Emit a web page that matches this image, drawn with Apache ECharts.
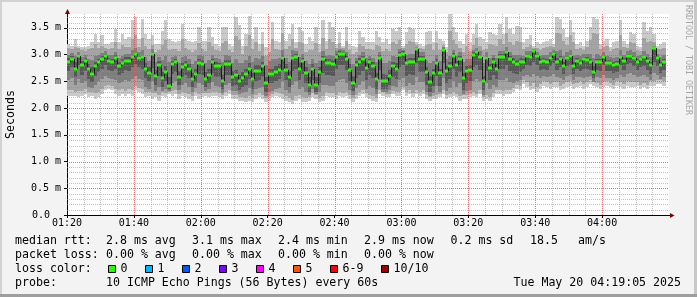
<!DOCTYPE html>
<html><head><meta charset="utf-8">
<script src="https://cdn.jsdelivr.net/npm/echarts@6/dist/echarts.min.js"></script>
<style>html,body{margin:0;padding:0;background:#f3f3f3;}#c{width:697px;height:297px;}</style>
</head><body><div id="c"></div>
<script>
// ---- data (minutes after 01:20, one value per minute, in ms) ----
const xTickLabels = ['01:20','01:40','02:00','02:20','02:40','03:00','03:20','03:40','04:00'];
const yTickLabels = ['0.0','0.5 m','1.0 m','1.5 m','2.0 m','2.5 m','3.0 m','3.5 m'];
const median = [2.86,2.92,2.74,2.98,2.80,2.88,2.73,2.64,2.78,2.86,
2.92,2.98,2.89,2.87,2.94,2.79,2.85,2.89,2.89,2.95,
3.01,2.93,2.96,2.74,2.66,3.01,2.60,2.80,2.56,2.67,
2.42,2.83,2.87,2.58,2.76,2.81,2.74,2.55,2.64,2.84,
2.83,2.55,2.62,2.86,2.78,2.78,2.51,2.83,2.83,2.58,
2.62,2.50,2.57,2.63,2.74,2.55,2.70,2.70,2.78,2.46,
2.64,2.63,2.68,2.72,2.93,2.72,2.59,2.93,2.96,2.73,
2.88,2.66,2.44,2.74,2.44,2.67,2.91,2.85,2.85,2.83,
2.96,3.01,3.01,2.92,2.72,2.47,2.80,2.87,2.92,2.75,
2.86,2.78,2.54,2.94,2.51,2.51,2.60,2.78,2.74,3.00,
3.02,2.84,2.87,2.87,3.10,2.92,2.92,2.67,2.48,2.65,
2.84,2.65,3.09,2.70,2.78,2.97,2.81,2.92,2.56,2.69,
2.71,2.99,3.04,2.95,2.50,2.93,2.75,2.87,2.74,2.96,
2.96,3.04,2.92,2.86,2.82,2.86,2.86,2.97,2.95,3.06,
2.97,2.86,2.88,2.86,2.94,3.02,2.86,2.92,2.78,2.94,
2.97,2.78,2.89,2.84,2.91,2.90,2.86,2.68,2.86,2.86,
2.95,2.84,2.84,2.80,2.82,2.95,2.88,2.98,2.98,2.93,
2.86,2.92,2.95,2.89,2.80,3.12,2.93,2.80,2.87];
const pingMax = [3.20,3.17,3.29,3.17,3.14,3.14,3.17,3.23,3.39,3.23,
3.36,3.20,3.20,3.23,3.48,3.23,3.39,3.29,3.33,3.64,
3.70,3.29,3.67,3.39,3.29,3.36,3.20,3.20,3.45,3.64,
3.29,3.26,3.23,3.26,3.57,3.29,3.26,3.23,3.26,3.51,
3.26,3.26,3.51,3.33,3.20,3.17,3.51,3.51,3.20,3.17,
3.70,3.55,3.17,3.39,3.73,3.29,3.51,3.20,3.42,3.14,
3.20,3.61,3.26,3.23,3.73,3.26,3.39,3.57,3.23,3.51,
3.45,3.20,3.33,3.26,3.51,3.20,3.64,3.26,3.61,3.51,
3.20,3.42,3.17,3.51,3.20,3.17,3.14,3.45,3.33,3.23,
3.23,3.23,3.45,3.33,3.23,3.29,3.20,3.48,3.45,3.51,
3.17,3.42,3.51,3.48,3.23,3.20,3.17,3.42,3.45,3.23,
3.45,3.29,3.26,3.14,3.76,3.51,3.42,3.26,3.20,3.39,
3.23,3.39,3.57,3.33,3.29,3.23,3.42,3.39,3.36,3.57,
3.39,3.70,3.48,3.39,3.54,3.51,3.23,3.29,3.36,3.17,
3.23,3.20,3.23,3.26,3.29,3.20,3.70,3.67,3.48,3.33,
3.64,3.42,3.20,3.23,3.17,3.26,3.51,3.70,3.67,3.20,
3.26,3.29,3.14,3.23,3.26,3.64,3.26,3.20,3.42,3.39,
3.17,3.14,3.61,3.45,3.51,3.39,3.17,3.20,3.23];
const pingMin = [2.23,2.23,2.22,2.20,2.23,2.26,2.20,2.23,2.17,2.20,
2.26,2.33,2.36,2.33,2.26,2.23,2.26,2.23,2.26,2.23,
2.33,2.30,2.26,2.20,2.23,2.17,2.20,2.14,2.23,2.20,
2.26,2.23,2.26,2.17,2.23,2.20,2.17,2.14,2.23,2.17,
2.20,2.23,2.20,2.23,2.23,2.20,2.17,2.23,2.26,2.17,
2.17,2.14,2.14,2.11,2.14,2.11,2.17,2.20,2.17,2.11,
2.14,2.20,2.23,2.20,2.17,2.14,2.11,2.08,2.14,2.17,
2.11,2.11,2.14,2.20,2.17,2.11,2.14,2.23,2.20,2.20,
2.17,2.23,2.20,2.23,2.17,2.11,2.17,2.23,2.26,2.20,
2.17,2.14,2.11,2.26,2.23,2.20,2.20,2.26,2.23,2.23,
2.33,2.23,2.26,2.20,2.26,2.23,2.26,2.17,2.14,2.17,
2.17,2.20,2.26,2.17,2.20,2.23,2.20,2.14,2.17,2.17,
2.20,2.23,2.20,2.26,2.14,2.17,2.14,2.20,2.26,2.26,
2.23,2.26,2.26,2.30,2.36,2.33,2.45,2.39,2.33,2.36,
2.30,2.36,2.42,2.39,2.36,2.39,2.39,2.33,2.36,2.39,
2.42,2.36,2.39,2.42,2.36,2.39,2.45,2.42,2.39,2.36,
2.39,2.42,2.39,2.36,2.42,2.39,2.36,2.42,2.39,2.39,
2.42,2.36,2.39,2.36,2.42,2.42,2.45,2.45,2.42];
const smokeHi2 = [3.12,3.10,3.14,3.12,3.08,3.06,3.10,3.12,3.20,3.13,
3.16,3.12,3.10,3.12,3.24,3.10,3.18,3.14,3.15,3.30,
3.36,3.14,3.32,3.16,3.10,3.18,3.05,3.08,3.18,3.28,
3.08,3.10,3.10,3.06,3.30,3.12,3.08,3.04,3.08,3.22,
3.10,3.06,3.24,3.16,3.08,3.06,3.22,3.26,3.08,3.04,
3.34,3.28,3.02,3.16,3.36,3.10,3.24,3.06,3.20,2.98,
3.04,3.30,3.10,3.08,3.40,3.10,3.16,3.30,3.12,3.24,
3.22,3.04,3.08,3.08,3.22,3.04,3.32,3.10,3.30,3.24,
3.12,3.22,3.12,3.26,3.08,3.02,3.04,3.20,3.16,3.10,
3.10,3.08,3.18,3.16,3.06,3.10,3.06,3.24,3.20,3.28,
3.12,3.20,3.26,3.24,3.18,3.12,3.10,3.18,3.20,3.08,
3.22,3.08,3.18,3.04,3.44,3.28,3.20,3.12,3.04,3.16,
3.06,3.18,3.32,3.16,3.08,3.10,3.20,3.18,3.16,3.30,
3.20,3.40,3.24,3.18,3.26,3.24,3.10,3.14,3.18,3.12,
3.12,3.08,3.12,3.14,3.16,3.14,3.40,3.38,3.26,3.18,
3.36,3.24,3.10,3.12,3.08,3.14,3.28,3.40,3.38,3.10,
3.14,3.16,3.06,3.10,3.12,3.36,3.14,3.12,3.24,3.22,
3.08,3.06,3.32,3.24,3.26,3.24,3.10,3.10,3.12];
const smokeLo2 = [2.33,2.34,2.30,2.32,2.32,2.35,2.30,2.30,2.28,2.31,
2.36,2.42,2.44,2.42,2.36,2.33,2.35,2.32,2.36,2.34,
2.42,2.38,2.36,2.30,2.30,2.28,2.28,2.24,2.30,2.28,
2.30,2.32,2.33,2.26,2.30,2.28,2.26,2.22,2.30,2.26,
2.28,2.28,2.28,2.30,2.30,2.28,2.24,2.30,2.33,2.25,
2.24,2.20,2.20,2.18,2.22,2.18,2.24,2.28,2.25,2.18,
2.22,2.27,2.30,2.28,2.26,2.22,2.18,2.16,2.22,2.25,
2.20,2.18,2.20,2.28,2.24,2.18,2.22,2.30,2.28,2.28,
2.25,2.30,2.28,2.30,2.25,2.18,2.24,2.30,2.33,2.28,
2.24,2.22,2.18,2.34,2.30,2.27,2.27,2.32,2.30,2.30,
2.40,2.30,2.33,2.28,2.34,2.30,2.33,2.24,2.20,2.23,
2.24,2.27,2.34,2.24,2.27,2.30,2.27,2.22,2.24,2.24,
2.27,2.30,2.27,2.33,2.20,2.24,2.21,2.28,2.33,2.34,
2.32,2.34,2.34,2.38,2.44,2.42,2.52,2.48,2.42,2.46,
2.40,2.45,2.50,2.48,2.45,2.48,2.48,2.42,2.45,2.48,
2.50,2.45,2.47,2.50,2.45,2.48,2.52,2.48,2.47,2.44,
2.48,2.50,2.47,2.44,2.50,2.48,2.45,2.50,2.48,2.48,
2.48,2.44,2.47,2.44,2.50,2.50,2.52,2.52,2.50];
const smokeHi3 = [3.00,3.03,2.98,3.05,2.96,2.99,2.92,2.90,2.98,3.00,
3.03,3.06,3.00,2.99,3.05,2.94,2.98,3.01,3.02,3.08,
3.12,3.04,3.08,2.95,2.88,3.10,2.86,2.96,2.90,2.98,
2.86,2.96,2.98,2.84,2.96,2.98,2.92,2.82,2.88,3.00,
2.98,2.84,2.90,3.00,2.94,2.92,2.86,3.00,2.98,2.84,
2.92,2.84,2.84,2.90,2.98,2.86,2.94,2.92,2.98,2.80,
2.88,2.92,2.92,2.94,3.08,2.94,2.86,3.08,3.06,2.96,
3.02,2.88,2.82,2.92,2.84,2.88,3.06,2.98,3.00,2.98,
3.06,3.10,3.08,3.04,2.94,2.82,2.94,3.00,3.04,2.94,
2.98,2.94,2.86,3.04,2.84,2.84,2.88,2.98,2.96,3.10,
3.08,3.00,3.02,3.02,3.14,3.04,3.04,2.90,2.84,2.88,
3.00,2.88,3.14,2.92,2.98,3.08,2.98,3.04,2.86,2.92,
2.92,3.08,3.12,3.06,2.84,3.04,2.94,3.00,2.94,3.06,
3.06,3.14,3.04,3.00,3.00,3.00,2.98,3.06,3.06,3.10,
3.04,2.98,3.00,3.00,3.04,3.08,3.06,3.08,2.98,3.04,
3.08,2.98,3.00,2.98,3.02,3.02,3.02,2.94,3.02,2.98,
3.04,2.98,2.96,2.94,2.96,3.08,3.00,3.06,3.08,3.04,
2.98,3.00,3.06,3.02,2.96,3.16,3.02,2.96,3.00];
const smokeLo3 = [2.52,2.56,2.44,2.55,2.46,2.50,2.40,2.38,2.44,2.50,
2.54,2.60,2.56,2.54,2.52,2.46,2.48,2.52,2.50,2.54,
2.60,2.54,2.52,2.40,2.36,2.50,2.32,2.40,2.32,2.36,
2.32,2.46,2.50,2.34,2.44,2.46,2.40,2.30,2.38,2.46,
2.44,2.32,2.36,2.48,2.42,2.40,2.28,2.44,2.46,2.32,
2.32,2.26,2.28,2.30,2.38,2.26,2.36,2.38,2.40,2.22,
2.30,2.32,2.36,2.38,2.50,2.34,2.28,2.44,2.50,2.36,
2.40,2.30,2.24,2.36,2.26,2.30,2.44,2.44,2.42,2.42,
2.48,2.52,2.54,2.46,2.34,2.24,2.38,2.44,2.50,2.36,
2.42,2.38,2.26,2.52,2.30,2.30,2.34,2.42,2.40,2.52,
2.56,2.42,2.46,2.44,2.58,2.48,2.48,2.30,2.22,2.28,
2.42,2.30,2.56,2.32,2.38,2.50,2.40,2.46,2.26,2.32,
2.34,2.50,2.54,2.50,2.24,2.46,2.36,2.44,2.40,2.52,
2.52,2.56,2.48,2.46,2.50,2.52,2.60,2.62,2.58,2.64,
2.60,2.56,2.60,2.58,2.60,2.64,2.58,2.56,2.52,2.60,
2.62,2.52,2.58,2.58,2.56,2.58,2.60,2.48,2.58,2.56,
2.62,2.56,2.56,2.52,2.56,2.62,2.58,2.64,2.66,2.62,
2.58,2.60,2.62,2.58,2.52,2.66,2.62,2.54,2.58];
const smokeHi4 = [2.93,2.97,2.86,3.01,2.88,2.93,2.82,2.76,2.86,2.92,
2.97,3.02,2.94,2.92,2.99,2.86,2.91,2.95,2.95,3.00,
3.05,2.98,3.00,2.84,2.76,3.04,2.72,2.88,2.68,2.78,
2.58,2.89,2.92,2.70,2.84,2.88,2.82,2.66,2.74,2.91,
2.90,2.68,2.74,2.92,2.86,2.85,2.62,2.90,2.90,2.70,
2.72,2.62,2.68,2.74,2.84,2.66,2.80,2.80,2.86,2.58,
2.74,2.74,2.78,2.82,3.00,2.82,2.70,3.00,3.02,2.84,
2.94,2.76,2.58,2.82,2.58,2.76,2.98,2.92,2.92,2.90,
3.02,3.06,3.05,2.98,2.82,2.60,2.88,2.94,2.98,2.84,
2.92,2.86,2.66,3.00,2.64,2.62,2.72,2.86,2.84,3.05,
3.06,2.92,2.94,2.94,3.12,2.98,2.98,2.76,2.60,2.74,
2.92,2.74,3.12,2.78,2.86,3.03,2.88,2.97,2.66,2.78,
2.80,3.04,3.08,3.00,2.60,2.98,2.82,2.93,2.82,3.02,
3.02,3.08,2.98,2.93,2.90,2.93,2.92,3.02,3.00,3.08,
3.01,2.92,2.93,2.92,2.98,3.05,2.94,2.98,2.86,2.98,
3.02,2.86,2.94,2.90,2.96,2.95,2.92,2.78,2.92,2.92,
3.00,2.90,2.90,2.86,2.88,3.00,2.93,3.02,3.02,2.98,
2.92,2.96,2.99,2.94,2.86,3.14,2.98,2.86,2.92];
const smokeLo4 = [2.70,2.76,2.58,2.80,2.62,2.70,2.55,2.48,2.60,2.68,
2.74,2.80,2.72,2.70,2.74,2.62,2.66,2.72,2.70,2.76,
2.82,2.76,2.74,2.56,2.50,2.75,2.44,2.60,2.40,2.50,
2.36,2.64,2.68,2.44,2.58,2.62,2.56,2.40,2.48,2.64,
2.62,2.40,2.46,2.66,2.58,2.58,2.36,2.62,2.62,2.42,
2.44,2.34,2.40,2.44,2.54,2.36,2.50,2.52,2.58,2.30,
2.46,2.46,2.50,2.54,2.72,2.52,2.40,2.70,2.74,2.52,
2.64,2.46,2.30,2.52,2.30,2.46,2.66,2.62,2.62,2.60,
2.74,2.80,2.80,2.72,2.50,2.32,2.56,2.62,2.70,2.52,
2.62,2.56,2.36,2.72,2.36,2.36,2.44,2.58,2.54,2.76,
2.80,2.60,2.64,2.62,2.84,2.68,2.68,2.44,2.30,2.42,
2.60,2.42,2.84,2.46,2.54,2.74,2.58,2.68,2.34,2.46,
2.50,2.76,2.80,2.72,2.34,2.70,2.52,2.62,2.54,2.74,
2.74,2.80,2.70,2.66,2.64,2.68,2.74,2.80,2.78,2.86,
2.80,2.72,2.74,2.72,2.78,2.84,2.72,2.76,2.64,2.78,
2.80,2.64,2.74,2.70,2.74,2.74,2.72,2.56,2.72,2.70,
2.80,2.70,2.70,2.66,2.68,2.80,2.72,2.82,2.84,2.78,
2.72,2.76,2.78,2.72,2.64,2.86,2.78,2.66,2.72];
const lossLabels = ['0','1','2','3','4','5','6-9','10/10'];
const lossColors = ['#26ff00','#00b8ff','#0059ff','#7e00ff','#ff00ff','#ff5500','#ff0000','#a10000'];
const rttStats = ['2.8 ms avg','3.1 ms max','2.4 ms min','2.9 ms now','0.2 ms sd','18.5','am/s'];
const lossStats = ['0.00 % avg','0.00 % max','0.00 % min','0.00 % now'];
const probeText = '10 ICMP Echo Pings (56 Bytes) every 60s';
const dateText = 'Tue May 20 04:19:05 2025';

// ---- build ----
const FONT = '"DejaVu Sans Mono", monospace';
const X_MAX = 180, Y_MAX = 3.76;
const smokeColors = ['#cacaca','#a4a4a4','#7e7e7e','#585858'];
const smokeData = median.map((m, i) => [i, pingMin[i], pingMax[i], smokeLo2[i], smokeHi2[i], smokeLo3[i], smokeHi3[i], smokeLo4[i], smokeHi4[i]]);
const medData = median.map((m, i) => [i, m, i > 0 ? median[i - 1] : m]);
const xTickValues = xTickLabels.map((_, k) => k * 20);
const yTickValues = yTickLabels.map((_, k) => k * 0.5);

function renderSmoke(params, api) {
  const i = api.value(0);
  const x0 = Math.round(api.coord([i, 0])[0]);
  const x1 = Math.round(api.coord([i + 1, 0])[0]);
  const children = [];
  for (let b = 0; b < 4; b++) {
    const yl = Math.round(api.coord([i, api.value(1 + 2 * b)])[1]);
    const yh = Math.round(api.coord([i, api.value(2 + 2 * b)])[1]);
    children.push({type: 'rect', shape: {x: x0, y: yh, width: x1 - x0, height: Math.max(0, yl - yh)}, style: {fill: smokeColors[b]}});
  }
  return {type: 'group', children};
}
function renderMedian(params, api) {
  const i = api.value(0);
  const x0 = Math.round(api.coord([i, 0])[0]);
  const x1 = Math.round(api.coord([i + 1, 0])[0]);
  const y = Math.round(api.coord([i, api.value(1)])[1]);
  const yp = Math.round(api.coord([i, api.value(2)])[1]);
  return {type: 'group', children: [
    {type: 'rect', shape: {x: x0, y: Math.min(y, yp), width: 1, height: Math.abs(y - yp)}, style: {fill: '#1c1c1c'}},
    {type: 'rect', shape: {x: x0, y: y - 1.5, width: x1 - x0, height: 3}, style: {fill: lossColors[0]}}
  ]};
}
// grid drawn over the smoke like rrdtool does, snapped to whole pixels
const MINOR = 'rgba(143,143,143,0.55)', MAJOR = 'rgba(226,80,80,0.8)';
function renderGrid(params, api) {
  const children = [];
  const yTop = Math.round(api.coord([0, Y_MAX])[1]), yBot = Math.round(api.coord([0, 0])[1]);
  const xL = Math.round(api.coord([0, 0])[0]), xR = Math.round(api.coord([X_MAX, 0])[0]);
  for (let k = 1; k * 5 < X_MAX; k++) {
    const x = Math.round(api.coord([k * 5, 0])[0]) + 0.5;
    children.push({type: 'line', shape: {x1: x, y1: yTop, x2: x, y2: yBot}, style: {stroke: k % 4 === 0 ? MAJOR : MINOR, lineWidth: 1, lineDash: [1, 1]}});
  }
  for (let k = 1; k * 0.1 < Y_MAX - 1e-9; k++) {
    const y = Math.round(api.coord([0, k * 0.1])[1]) + 0.5;
    children.push({type: 'line', shape: {x1: xL, y1: y, x2: xR, y2: y}, style: {stroke: k % 5 === 0 ? MAJOR : MINOR, lineWidth: 1, lineDash: [1, 1]}});
  }
  return {type: 'group', children};
}

const gridL = 67, gridT = 14, gridW = 602, gridH = 201;
const axisY = gridT + gridH, axisR = gridL + gridW;

function txt(text, x, y, opts) {
  return {type: 'text', silent: true, style: Object.assign({text, x, y, font: '11.6px ' + FONT, fill: '#000',
    align: 'left', verticalAlign: 'middle', textAlign: 'left', textVerticalAlign: 'middle'}, opts || {})};
}
const graphics = [
  {type: 'rect', shape: {x: 0, y: 0, width: 697, height: 2}, style: {fill: '#d2d2d2'}, silent: true},
  {type: 'rect', shape: {x: 0, y: 0, width: 2, height: 297}, style: {fill: '#d2d2d2'}, silent: true},
  {type: 'rect', shape: {x: 694, y: 0, width: 3, height: 297}, style: {fill: '#c8c8c8'}, silent: true},
  {type: 'rect', shape: {x: 0, y: 294, width: 697, height: 3}, style: {fill: '#9e9e9e'}, silent: true},
  {type: 'line', shape: {x1: axisR, y1: axisY + 0.5, x2: axisR + 2, y2: axisY + 0.5}, style: {stroke: '#000', lineWidth: 1}, silent: true},
  {type: 'polygon', shape: {points: [[axisR + 1, axisY - 2], [axisR + 1, axisY + 3], [axisR + 5.5, axisY + 0.5]]}, style: {fill: '#7f0000'}, silent: true},
  {type: 'polygon', shape: {points: [[gridL - 2, gridT], [gridL + 3, gridT], [gridL + 0.5, gridT - 5]]}, style: {fill: '#7f0000'}, silent: true},
  {type: 'text', silent: true, x: 11, y: gridT + gridH / 2, rotation: Math.PI / 2,
    style: {text: 'Seconds', x: 0, y: 0, font: '11.6px ' + FONT, fill: '#000', align: 'center', verticalAlign: 'middle', textAlign: 'center', textVerticalAlign: 'middle'}},
  {type: 'text', silent: true, x: 688, y: 60, rotation: -Math.PI / 2,
    style: {text: 'RRDTOOL / TOBI OETIKER', x: 0, y: 0, font: '8.3px ' + FONT, fill: '#a6a6a6', align: 'center', verticalAlign: 'middle', textAlign: 'center', textVerticalAlign: 'middle'}},
  txt('median rtt:', 15, 241), txt('packet loss:', 15, 255), txt('loss color:', 15, 269), txt('probe:', 15, 283),
  txt(probeText, 106, 283),
  txt(dateText, 681, 283, {align: 'right', textAlign: 'right'})
];
const statX = [106, 192, 278, 364, 450.5, 530, 578];
rttStats.forEach((s, k) => graphics.push(txt(s, statX[k], 241)));
lossStats.forEach((s, k) => graphics.push(txt(s, statX[k], 255)));
const boxX = [108, 145, 182, 219, 256, 293, 330, 381];
lossLabels.forEach((l, k) => {
  graphics.push({type: 'rect', silent: true, shape: {x: boxX[k] + 0.5, y: 265.5, width: 7, height: 7}, style: {fill: lossColors[k], stroke: '#000', lineWidth: 1}});
  graphics.push(txt(l, boxX[k] + 12.5, 269));
});

const chart = echarts.init(document.getElementById('c'), null, {renderer: 'canvas', width: 697, height: 297});
chart.setOption({
  animation: false,
  backgroundColor: '#f3f3f3',
  grid: {left: gridL, top: gridT, width: gridW, height: gridH, show: true, backgroundColor: '#ffffff', borderWidth: 0},
  xAxis: {
    type: 'value', min: 0, max: X_MAX, interval: 20,
    axisLine: {show: true, lineStyle: {color: '#000', width: 1}},
    axisTick: {show: true, length: 3, customValues: xTickValues, lineStyle: {color: '#000'}},
    splitLine: {show: false},
    axisLabel: {margin: 3, fontFamily: FONT, fontSize: 10, color: '#000', customValues: xTickValues,
      formatter: v => { const k = Math.round(v / 20); return Math.abs(v - k * 20) < 1e-6 && k < xTickLabels.length ? xTickLabels[k] : ''; }}
  },
  yAxis: {
    type: 'value', min: 0, max: Y_MAX, interval: 0.5,
    axisLine: {show: true, lineStyle: {color: '#000', width: 1}},
    axisTick: {show: true, length: 3, customValues: yTickValues, lineStyle: {color: '#000'}},
    splitLine: {show: false},
    axisLabel: {margin: 6, fontFamily: FONT, fontSize: 10, color: '#000', customValues: yTickValues,
      rich: {z: {fontFamily: FONT, fontSize: 10, color: '#000', padding: [0, 11, 0, 0]}},
      formatter: v => { const k = Math.round(v / 0.5); if (Math.abs(v - k * 0.5) > 1e-6 || k >= yTickLabels.length) return ''; return k === 0 ? '{z|' + yTickLabels[0] + '}' : yTickLabels[k]; }}
  },
  series: [
    {type: 'custom', renderItem: renderSmoke, data: smokeData, encode: {x: 0, y: [1, 2]}, z: 2, silent: true, clip: true},
    {type: 'custom', renderItem: renderGrid, data: [[0, 0]], encode: {x: 0, y: 1}, z: 3, silent: true},
    {type: 'custom', renderItem: renderMedian, data: medData, encode: {x: 0, y: 1}, z: 4, silent: true, clip: true}
  ],
  graphic: {elements: graphics}
});
</script>
</body></html>
